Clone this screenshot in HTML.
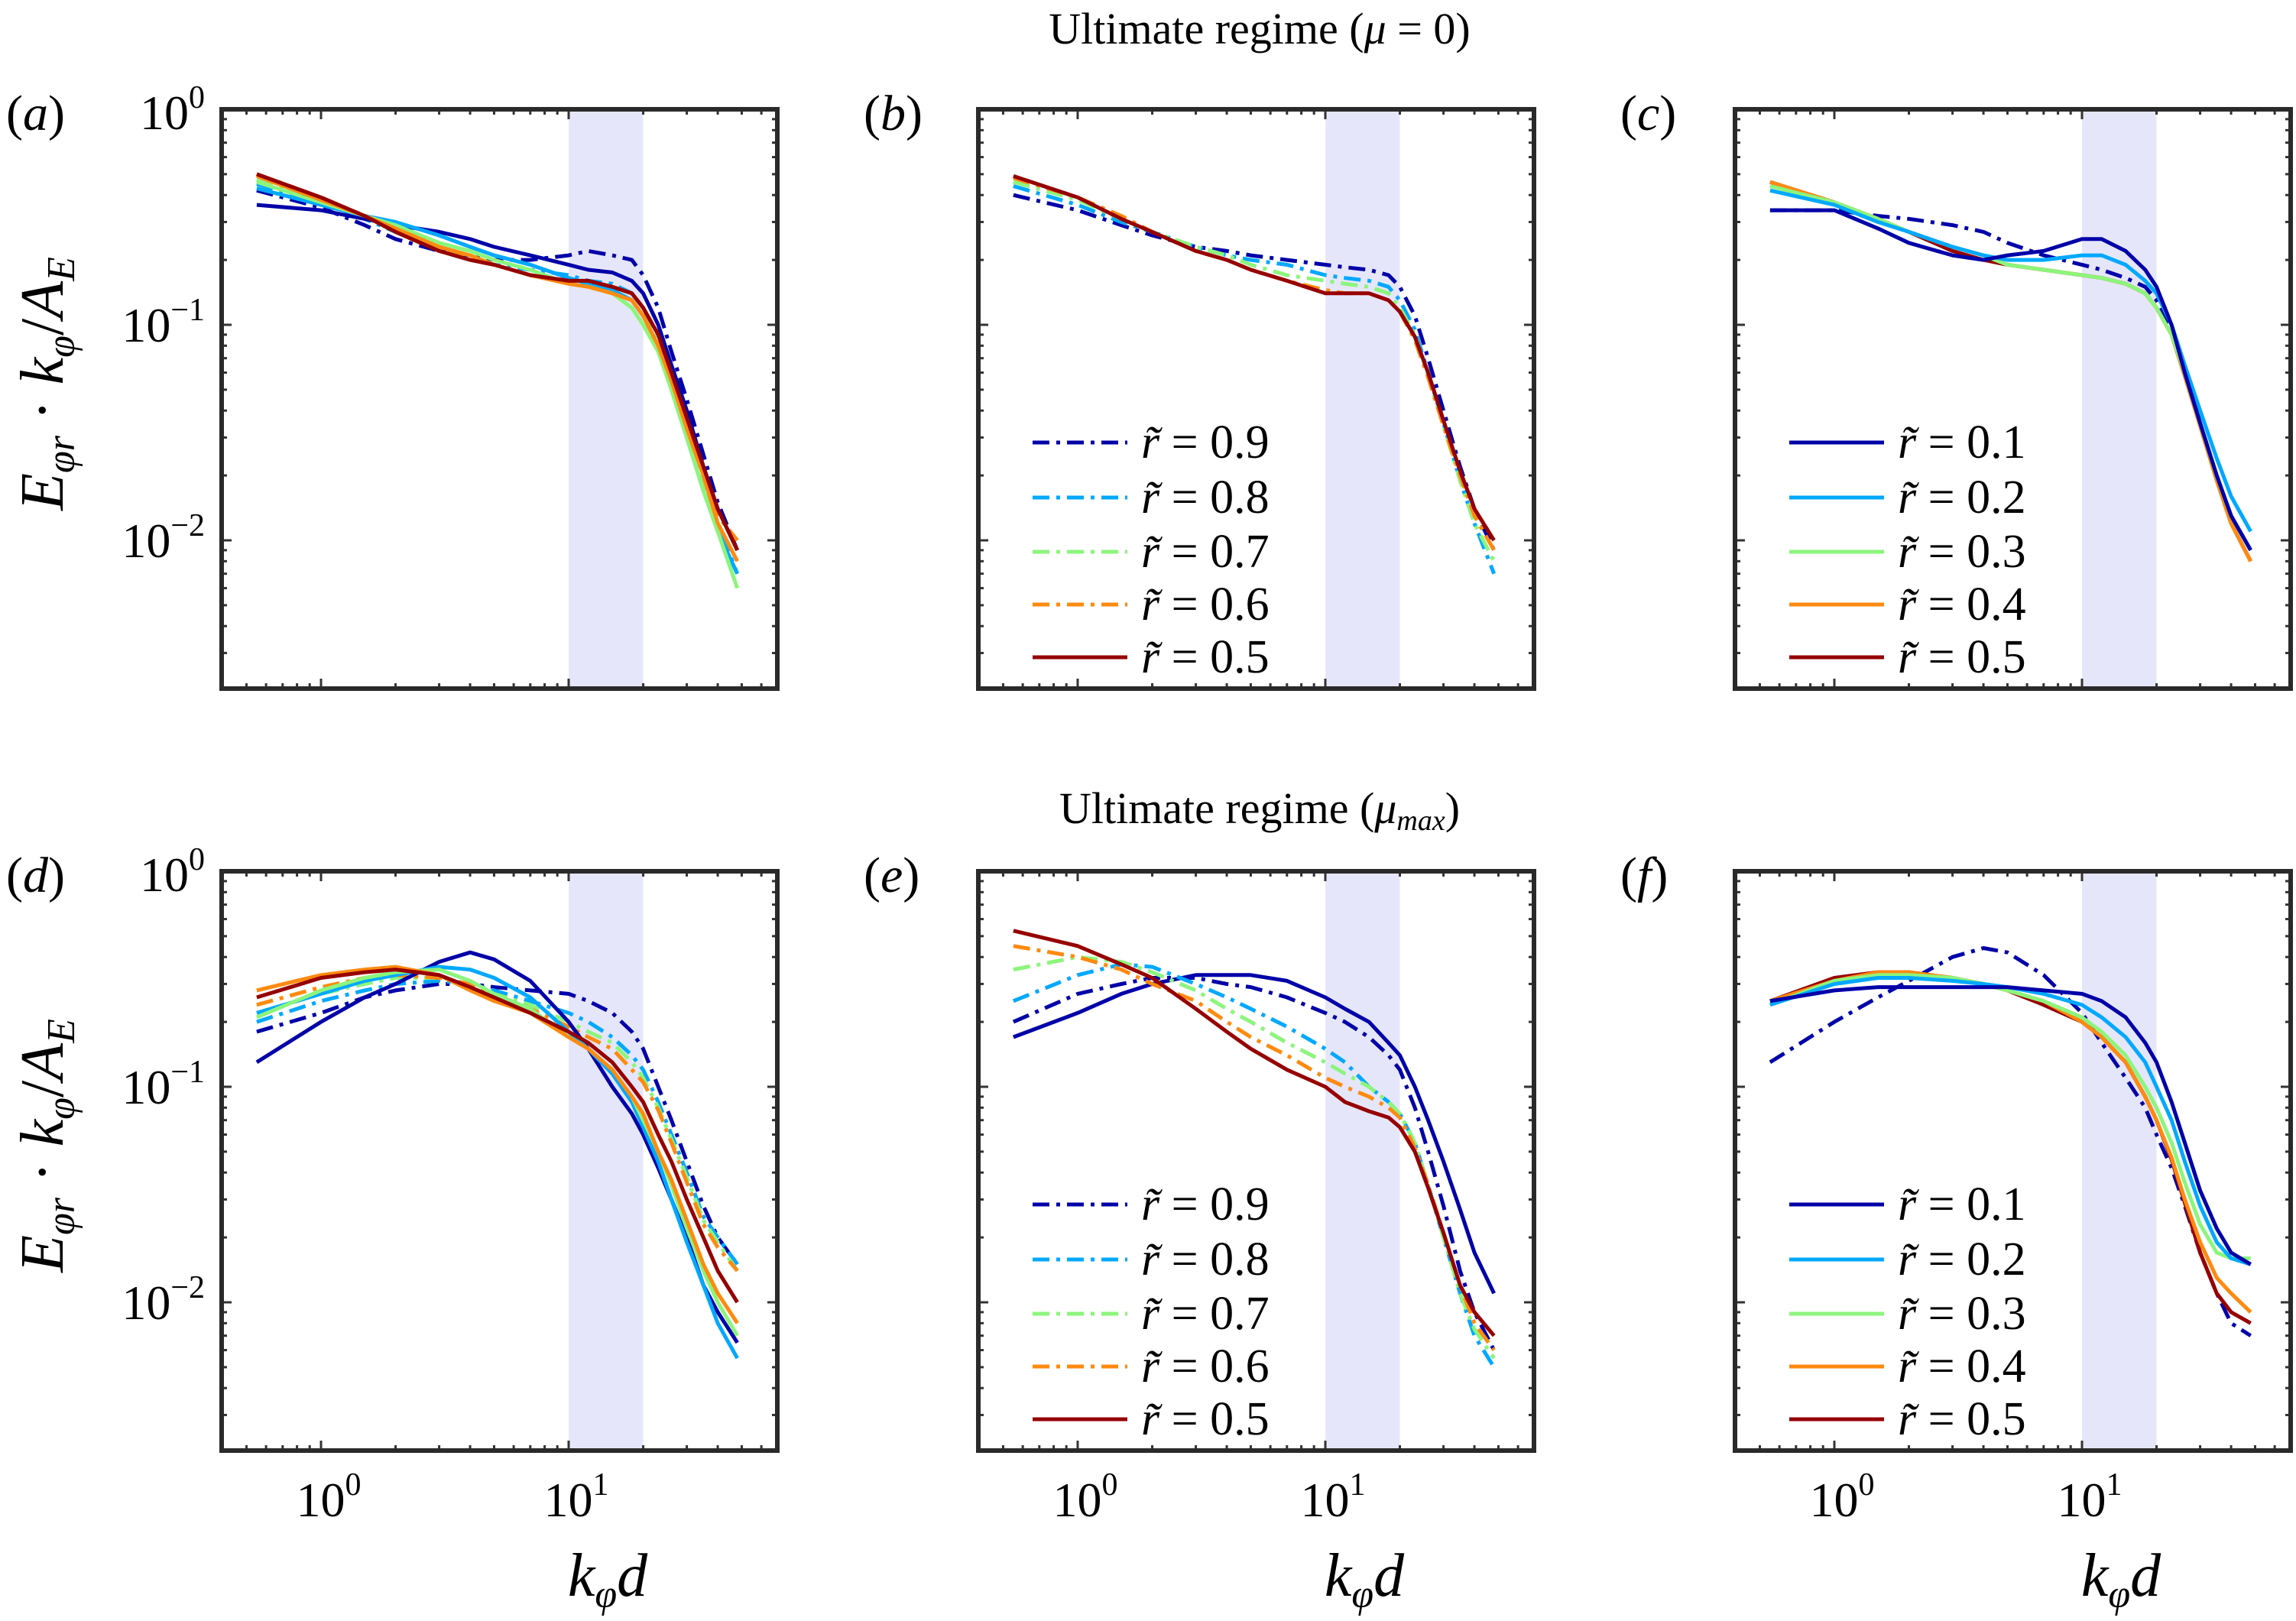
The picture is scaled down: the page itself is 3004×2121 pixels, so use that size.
<!DOCTYPE html>
<html><head><meta charset="utf-8">
<style>
html,body{margin:0;padding:0;background:#fff;}
svg{display:block;font-family:"Liberation Serif",serif;}
</style></head>
<body>
<svg id="fig" width="3004" height="2121" viewBox="0 0 3004 2121" xmlns="http://www.w3.org/2000/svg">
<text x="1648" y="57" font-size="58" text-anchor="middle">Ultimate regime (<tspan font-style="italic">μ</tspan> = 0)</text>
<text x="1648" y="1077" font-size="58" text-anchor="middle">Ultimate regime (<tspan font-style="italic">μ<tspan font-size="38" dy="9">max</tspan></tspan><tspan dy="-9">)</tspan></text>
</svg>
<script>
const K = [0.55,1,1.5,2,3,4,5,7,10,12,15,18,20,23,26,30,35,40,48];
const radii = ["0.9","0.8","0.7","0.6","0.5","0.4","0.3","0.2","0.1"];
const xTickLabels = ["0","1"];
const yTickLabels = ["0","−1","−2"];
// panel a
const a9=[0.42,0.35,0.29,0.25,0.22,0.21,0.20,0.20,0.21,0.22,0.21,0.20,0.17,0.12,0.075,0.045,0.025,0.015,0.009];
const a8=[0.45,0.37,0.31,0.27,0.22,0.20,0.19,0.18,0.17,0.16,0.155,0.14,0.12,0.09,0.06,0.035,0.02,0.012,0.007];
const a7=[0.47,0.38,0.32,0.28,0.23,0.21,0.19,0.17,0.16,0.155,0.145,0.13,0.11,0.085,0.055,0.032,0.018,0.011,0.007];
const a6=[0.50,0.39,0.32,0.28,0.23,0.20,0.19,0.17,0.16,0.155,0.15,0.14,0.12,0.09,0.06,0.036,0.021,0.013,0.01];
const a5=[0.50,0.39,0.32,0.27,0.22,0.20,0.19,0.17,0.16,0.16,0.15,0.14,0.12,0.09,0.06,0.037,0.022,0.014,0.009];
const a4=[0.49,0.38,0.32,0.28,0.23,0.21,0.19,0.17,0.155,0.15,0.14,0.13,0.11,0.08,0.055,0.033,0.02,0.012,0.008];
const a3=[0.46,0.37,0.32,0.29,0.24,0.22,0.20,0.18,0.155,0.15,0.14,0.12,0.10,0.075,0.05,0.03,0.017,0.011,0.006];
const a2=[0.43,0.36,0.32,0.30,0.26,0.23,0.21,0.19,0.165,0.155,0.145,0.13,0.11,0.08,0.05,0.03,0.017,0.011,0.007];
const a1=[0.36,0.34,0.31,0.29,0.27,0.25,0.23,0.21,0.19,0.18,0.175,0.16,0.14,0.10,0.065,0.04,0.022,0.014,0.009];
// panel b
const b9=[0.40,0.34,0.29,0.26,0.23,0.22,0.21,0.20,0.19,0.185,0.18,0.17,0.15,0.11,0.07,0.04,0.022,0.014,0.009];
const b8=[0.44,0.36,0.30,0.27,0.23,0.21,0.20,0.19,0.17,0.165,0.16,0.15,0.13,0.095,0.06,0.035,0.019,0.012,0.007];
const b7=[0.46,0.38,0.31,0.27,0.23,0.21,0.19,0.17,0.16,0.155,0.15,0.14,0.12,0.09,0.058,0.034,0.019,0.012,0.008];
const b6=[0.48,0.39,0.32,0.27,0.22,0.20,0.18,0.16,0.145,0.14,0.14,0.13,0.115,0.085,0.057,0.034,0.02,0.013,0.009];
const b5=[0.49,0.39,0.31,0.27,0.22,0.20,0.18,0.16,0.14,0.14,0.14,0.13,0.115,0.088,0.06,0.036,0.021,0.014,0.010];
// panel c
const c9=[0.34,0.34,0.32,0.31,0.29,0.27,0.24,0.21,0.19,0.18,0.165,0.15,0.13,0.095,0.06,0.035,0.02,0.013,0.009];
const c1=[0.34,0.34,0.28,0.24,0.21,0.20,0.21,0.22,0.25,0.25,0.22,0.18,0.15,0.10,0.06,0.035,0.02,0.013,0.009];
const c2=[0.42,0.36,0.30,0.27,0.23,0.21,0.20,0.20,0.21,0.21,0.19,0.16,0.14,0.10,0.065,0.04,0.024,0.016,0.011];
const c3=[0.44,0.37,0.31,0.27,0.23,0.21,0.19,0.18,0.17,0.165,0.155,0.14,0.12,0.09,0.06,0.035,0.02,0.013,0.009];
const c4=[0.46,0.37,0.31,0.27,0.23,0.21,0.19,0.18,0.17,0.165,0.155,0.14,0.12,0.09,0.058,0.034,0.019,0.012,0.008];
const c5=[0.46,0.37,0.31,0.27,0.22,0.20,0.19,0.18,0.17,0.165,0.155,0.14,0.12,0.09,0.058,0.034,0.019,0.012,0.008];
// panel d
const d9=[0.18,0.22,0.26,0.28,0.30,0.30,0.29,0.28,0.27,0.25,0.22,0.18,0.15,0.10,0.07,0.045,0.028,0.02,0.015];
const d8=[0.20,0.25,0.28,0.30,0.31,0.30,0.28,0.25,0.22,0.20,0.17,0.14,0.12,0.085,0.06,0.04,0.025,0.02,0.015];
const d7=[0.22,0.27,0.30,0.32,0.32,0.30,0.27,0.24,0.20,0.18,0.16,0.13,0.11,0.08,0.057,0.038,0.024,0.019,0.014];
const d6=[0.24,0.29,0.32,0.33,0.32,0.30,0.27,0.23,0.19,0.17,0.15,0.12,0.105,0.078,0.055,0.036,0.023,0.018,0.014];
const d5=[0.26,0.32,0.34,0.35,0.33,0.29,0.26,0.22,0.18,0.16,0.13,0.10,0.085,0.06,0.045,0.03,0.02,0.014,0.010];
const d4=[0.28,0.33,0.35,0.36,0.33,0.28,0.25,0.22,0.17,0.15,0.12,0.09,0.075,0.05,0.037,0.024,0.015,0.011,0.008];
const d3=[0.21,0.28,0.32,0.34,0.35,0.31,0.27,0.23,0.17,0.15,0.12,0.09,0.07,0.05,0.035,0.022,0.014,0.01,0.007];
const d2=[0.22,0.27,0.31,0.33,0.36,0.35,0.32,0.26,0.18,0.15,0.115,0.085,0.065,0.045,0.03,0.019,0.012,0.008,0.0055];
const d1=[0.13,0.20,0.26,0.30,0.38,0.42,0.39,0.31,0.20,0.15,0.10,0.075,0.06,0.042,0.03,0.02,0.012,0.009,0.0065];
// panel e
const e9=[0.20,0.27,0.30,0.32,0.32,0.30,0.29,0.26,0.22,0.20,0.17,0.14,0.12,0.08,0.05,0.028,0.014,0.009,0.006];
const e8=[0.25,0.33,0.37,0.36,0.30,0.26,0.23,0.19,0.15,0.13,0.10,0.085,0.075,0.055,0.035,0.02,0.011,0.007,0.005];
const e7=[0.35,0.40,0.38,0.34,0.28,0.23,0.20,0.16,0.13,0.115,0.10,0.085,0.075,0.055,0.035,0.02,0.011,0.0075,0.0055];
const e6=[0.45,0.40,0.35,0.30,0.25,0.20,0.17,0.14,0.11,0.10,0.09,0.08,0.072,0.052,0.035,0.021,0.012,0.008,0.006];
const e5=[0.53,0.45,0.37,0.32,0.23,0.18,0.15,0.12,0.10,0.085,0.077,0.072,0.065,0.05,0.034,0.021,0.012,0.009,0.007];
const e1=[0.17,0.22,0.27,0.30,0.33,0.33,0.33,0.31,0.26,0.23,0.20,0.16,0.14,0.10,0.07,0.045,0.027,0.017,0.011];
// panel f
const f9=[0.13,0.20,0.26,0.31,0.40,0.44,0.42,0.33,0.22,0.16,0.11,0.08,0.06,0.042,0.028,0.017,0.011,0.008,0.007];
const f1=[0.25,0.28,0.29,0.29,0.29,0.29,0.29,0.28,0.27,0.25,0.21,0.16,0.13,0.085,0.055,0.033,0.022,0.017,0.015];
const f2=[0.24,0.30,0.32,0.32,0.31,0.30,0.29,0.27,0.24,0.21,0.17,0.13,0.10,0.07,0.045,0.028,0.019,0.016,0.015];
const f3=[0.24,0.31,0.33,0.33,0.32,0.30,0.28,0.25,0.21,0.18,0.14,0.10,0.08,0.055,0.036,0.023,0.017,0.016,0.016];
const f4=[0.25,0.31,0.34,0.34,0.32,0.30,0.28,0.25,0.20,0.17,0.13,0.09,0.07,0.047,0.03,0.019,0.013,0.011,0.009];
const f5=[0.25,0.32,0.34,0.34,0.32,0.30,0.28,0.24,0.20,0.17,0.13,0.09,0.07,0.046,0.029,0.017,0.011,0.009,0.008];

const NS="http://www.w3.org/2000/svg";
const svg=document.getElementById('fig');
const COL={"0.9":"#0000a8","0.8":"#00a8ff","0.7":"#8cf57c","0.6":"#ff8a10","0.5":"#960000","0.4":"#ff8a10","0.3":"#8cf57c","0.2":"#00a8ff","0.1":"#0000a8"};
const W=727,H=758,X0=130,DX=324,DY=282;
function mk(tag,attrs,parent){const e=document.createElementNS(NS,tag);for(const k in attrs)e.setAttribute(k,attrs[k]);(parent||svg).appendChild(e);return e;}

const panels=[
 {id:"a",L:290,T:143,series:[[a9,"0.9",1],[a8,"0.8",1],[a7,"0.7",1],[a6,"0.6",1],[a1,"0.1",0],[a2,"0.2",0],[a3,"0.3",0],[a4,"0.4",0],[a5,"0.5",0]],legend:null,ylab:true,xlab:false},
 {id:"b",L:1280,T:143,series:[[b9,"0.9",1],[b8,"0.8",1],[b7,"0.7",1],[b6,"0.6",1],[b5,"0.5",0]],legend:[["0.9",1],["0.8",1],["0.7",1],["0.6",1],["0.5",0]],ylab:false,xlab:false},
 {id:"c",L:2270,T:143,series:[[c9,"0.9",1],[c5,"0.5",0],[c4,"0.4",0],[c3,"0.3",0],[c2,"0.2",0],[c1,"0.1",0]],legend:[["0.1",0],["0.2",0],["0.3",0],["0.4",0],["0.5",0]],ylab:false,xlab:false},
 {id:"d",L:290,T:1140,series:[[d9,"0.9",1],[d8,"0.8",1],[d7,"0.7",1],[d6,"0.6",1],[d1,"0.1",0],[d2,"0.2",0],[d3,"0.3",0],[d4,"0.4",0],[d5,"0.5",0]],legend:null,ylab:true,xlab:true},
 {id:"e",L:1280,T:1140,series:[[e1,"0.1",0],[e9,"0.9",1],[e8,"0.8",1],[e7,"0.7",1],[e6,"0.6",1],[e5,"0.5",0]],legend:[["0.9",1],["0.8",1],["0.7",1],["0.6",1],["0.5",0]],ylab:false,xlab:true},
 {id:"f",L:2270,T:1140,series:[[f9,"0.9",1],[f5,"0.5",0],[f4,"0.4",0],[f3,"0.3",0],[f2,"0.2",0],[f1,"0.1",0]],legend:[["0.1",0],["0.2",0],["0.3",0],["0.4",0],["0.5",0]],ylab:false,xlab:true}
];
const DASH="22,9,5,9";

panels.forEach(p=>{
  const g=mk('g',{});
  
  
  const xs=k=>p.L+X0+DX*Math.log10(k);
  const ys=v=>p.T-DY*Math.log10(v);
  const band=mk('rect',{x:xs(10),y:p.T,width:xs(20)-xs(10),height:H,fill:"#e6e6fb"},g);
  
  
  const cp=mk('clipPath',{id:'clip'+p.id},g);
  mk('rect',{x:p.L,y:p.T,width:W,height:H},cp);
  const sg=mk('g',{'clip-path':'url(#clip'+p.id+')'},g);
  p.series.forEach(s=>{
    const d=s[0].map((v,i)=>(i?'L':'M')+xs(K[i]).toFixed(1)+','+ys(v).toFixed(1)).join(' ');
    const path=mk('path',{d:d,fill:'none',stroke:COL[s[1]],'stroke-width':5,'stroke-linejoin':'round'},sg);
    if(s[2])path.setAttribute('stroke-dasharray',DASH);
    
    
  });
  const tg=mk('g',{stroke:'#333','stroke-width':3},g);
  for(let dec=-1;dec<=1;dec++){for(let m=1;m<10;m++){const k=m*Math.pow(10,dec);const x=xs(k);if(x<p.L+3||x>p.L+W-3)continue;const len=m===1?13:7;
    mk('line',{x1:x,y1:p.T+H,x2:x,y2:p.T+H-len},tg);mk('line',{x1:x,y1:p.T,x2:x,y2:p.T+len},tg);}}
  for(let dec=-3;dec<=0;dec++){for(let m=1;m<10;m++){const v=m*Math.pow(10,dec);const y=ys(v);if(y<p.T+2||y>p.T+H-3)continue;const len=m===1?13:7;
    mk('line',{x1:p.L,y1:y,x2:p.L+len,y2:y},tg);mk('line',{x1:p.L+W,y1:y,x2:p.L+W-len,y2:y},tg);}}
  const fr=mk('rect',{x:p.L,y:p.T,width:W,height:H,fill:'none',stroke:'#2a2a2a','stroke-width':6},g);
  
  
  const pl=mk('text',{x:p.L-(p.id==='a'||p.id==='d'?282:150),y:p.T+27,'font-size':66},g);
  
  
  pl.innerHTML='(<tspan font-style="italic">'+p.id+'</tspan>)';
  if(p.ylab){
    yTickLabels.forEach((t,i)=>{
      const y=ys(Math.pow(10,-i));
      const tx=mk('text',{x:p.L-22,y:y+(i===0?26:22),'font-size':64,'text-anchor':'end'},g);
      
      
      tx.innerHTML='10<tspan font-size="42" dy="-28">'+t+'</tspan>';
    });
    const yl=mk('text',{x:0,y:0,'font-size':80,'font-style':'italic','text-anchor':'middle',transform:'translate(82,'+(p.T+H/2-20)+') rotate(-90)'},g);
    
    
    yl.innerHTML='E<tspan font-size="52" dy="15">φr</tspan><tspan dy="-15" font-style="normal"> · </tspan>k<tspan font-size="52" dy="15">φ</tspan><tspan dy="-15" font-style="normal">/</tspan>A<tspan font-size="52" dy="15">E</tspan>';
  }
  if(p.xlab){
    xTickLabels.forEach((t,i)=>{
      const x=xs(Math.pow(10,i));
      const tx=mk('text',{x:x+10,y:p.T+H+86,'font-size':64,'text-anchor':'middle'},g);
      
      
      tx.innerHTML='10<tspan font-size="42" dy="-28">'+t+'</tspan>';
    });
    const xl=mk('text',{x:p.L+505,y:p.T+H+190,'font-size':80,'font-style':'italic','text-anchor':'middle'},g);
    
    
    xl.innerHTML='k<tspan font-size="52" dy="15">φ</tspan><tspan dy="-15">d</tspan>';
  }
  if(p.legend){
    const lg=mk('g',{},g);
    
    
    const rows=[436,508,579,648,717];
    p.legend.forEach((e,i)=>{
      const y=p.T+rows[i];
      const ln=mk('line',{x1:p.L+71,y1:y,x2:p.L+195,y2:y,stroke:COL[e[0]],'stroke-width':5},lg);
      if(e[1])ln.setAttribute('stroke-dasharray',DASH);
      
      
      const tx=mk('text',{x:p.L+213,y:y+20,'font-size':62},lg);
      
      
      tx.innerHTML='<tspan font-style="italic">r̃</tspan> = '+e[0];
    });
  }
});
</script>
</body></html>
